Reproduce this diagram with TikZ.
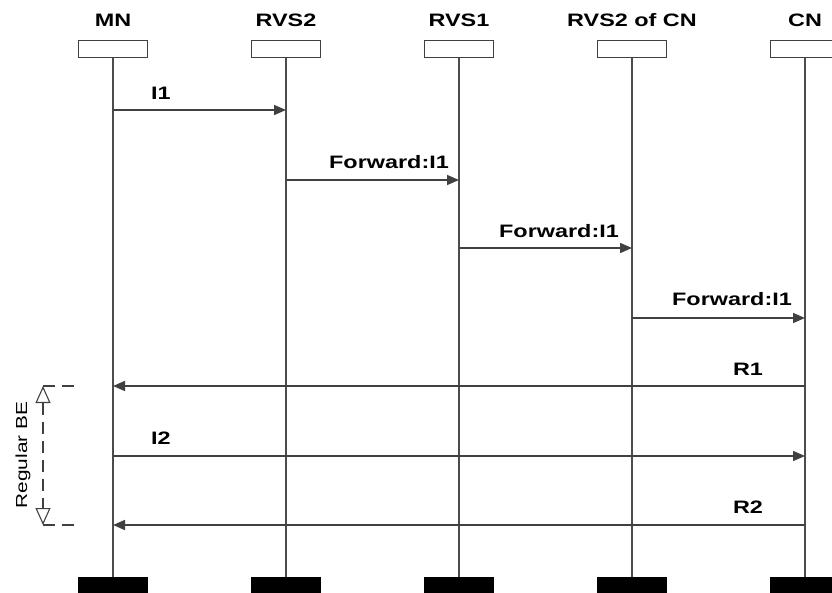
\documentclass[tikz,border=0pt]{standalone}
\usepackage{fontspec}
\newfontfamily\lblfont{Liberation Sans}[FakeStretch=1.3]
\usetikzlibrary{arrows.meta}
\tikzset {>={Triangle[length=12pt,width=10pt]}}
\tikzset{
  headbox/.style={draw=black!75,line width=1.6pt,fill=white,minimum width=69pt,minimum height=17pt,inner sep=0pt},
  footbox/.style={fill=black,minimum width=70pt,minimum height=18pt,inner sep=0pt},
  lifeline/.style={draw=black!70,line width=1.6pt},
  msg/.style={->,draw=black!75,line width=1.6pt},
  lbl/.style={font=\lblfont\bfseries\fontsize{18}{18}\selectfont,inner sep=0pt},
  bedash/.style={draw=black!75,line width=1.1pt,dash pattern=on 12pt off 7pt},
}

\begin{document}
\begin{tikzpicture}[x=1pt,y=-1pt]
\useasboundingbox (0,0) rectangle (832,593);
\foreach \x/\name/\txt in {113/mn/MN,286/rvsa/RVS2,459/rvsb/RVS1,632/rvsc/RVS2 of CN,805/cn/CN} {
  \node[headbox] (\name) at (\x,49) {};
  \node[lbl] (\name-lbl) at (\x,20) {\txt};
  \node[footbox] (\name-end) at (\x,586) {};
  \draw[lifeline] (\name) -- (\name-end);
}
\foreach \a/\b/\y/\lx/\ly/\txt in {mn/rvsa/110/161/93/I1,rvsa/rvsb/180/389/162/Forward:I1,
    rvsb/rvsc/248/559/231/Forward:I1,rvsc/cn/318/732/299/Forward:I1,cn/mn/386/748/369/R1,
    mn/cn/456/161/438/I2,cn/mn/525/748/507/R2} {
  \draw[msg] (\a |- 0,\y) -- (\b |- 0,\y);
  \node[lbl] at (\lx,\ly) {\txt};
}
% regular base exchange
\coordinate (be-top) at (43,386);
\coordinate (be-bot) at (43,525);
\draw[bedash] (be-top) -- ++(37,0);
\draw[bedash] (be-bot) -- ++(37,0);
\draw[bedash,{Triangle[open,length=17pt,width=15pt]}-{Triangle[open,length=17pt,width=15pt]}] (be-top) -- (be-bot);
\node[rotate=90,font=\lblfont\fontsize{16}{16}\selectfont,inner sep=0pt] (be) at (23,455) {Regular BE};
\end{tikzpicture}
\end{document}
